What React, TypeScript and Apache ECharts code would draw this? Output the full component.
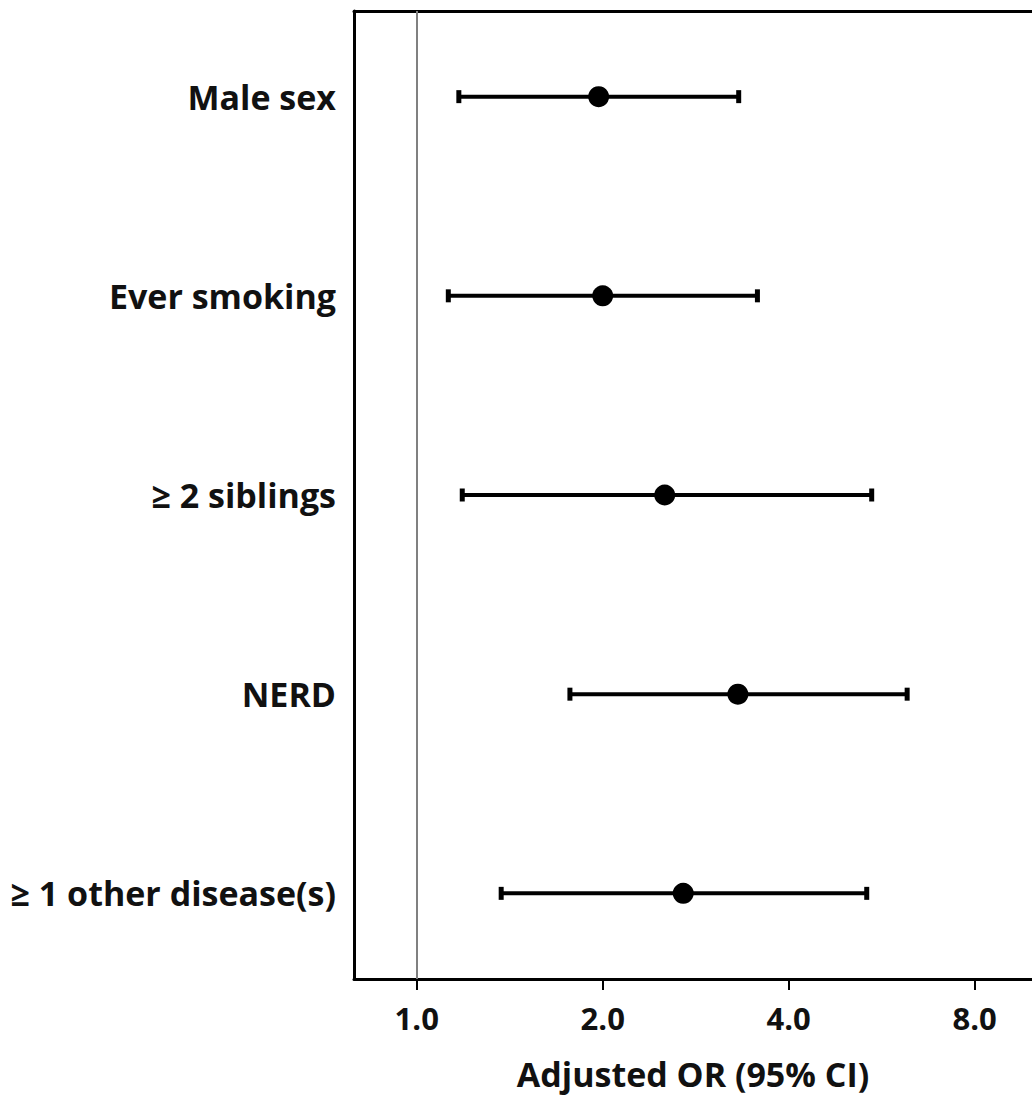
import React, { useEffect, useRef } from "react";
import * as echarts from "echarts";

const categories = ["Male sex", "Ever smoking", "\u2265 2 siblings", "NERD", "\u2265 1 other disease(s)"];
const oddsRatio = [1.97, 2.0, 2.52, 3.31, 2.7];
const ciLow = [1.17, 1.125, 1.185, 1.77, 1.37];
const ciHigh = [3.32, 3.56, 5.45, 6.22, 5.35];
const xTicks = [1, 2, 4, 8];
const xTitle = "Adjusted OR (95% CI)";

const FONT = "Open Sans";

export default function App() {
  const ref = useRef<HTMLDivElement>(null);
  useEffect(() => {
    document.body.style.margin = "0";
    const chart = echarts.init(ref.current!, null, { renderer: "svg" });
    const rowIdx = categories.map((_, i) => i);
    const option: any = {
      animation: false,
      backgroundColor: "#fff",
      textStyle: { fontFamily: FONT },
      grid: { left: 354, right: 0, top: 11, bottom: 118, containLabel: false },
      xAxis: [
        {
          type: "log",
          logBase: 2,
          min: 0.7916,
          max: 9.905,
          position: "bottom",
          axisLine: { show: true, onZero: false, lineStyle: { color: "#000", width: 3 } },
          axisTick: { show: true, customValues: xTicks, length: 11, lineStyle: { color: "#000", width: 2 } },
          axisLabel: {
            customValues: xTicks,
            formatter: (v: number) => Number(v).toFixed(1),
            fontFamily: FONT,
            fontWeight: "bold",
            fontSize: 31,
            color: "#111",
            margin: 23,
          },
          splitLine: { show: false },
          minorTick: { show: false },
          name: xTitle,
          nameLocation: "middle",
          nameGap: 78,
          nameTextStyle: { fontFamily: FONT, fontWeight: "bold", fontSize: 34, color: "#111" },
        },
        {
          type: "log",
          logBase: 2,
          min: 0.7916,
          max: 9.905,
          position: "top",
          axisLine: { show: true, onZero: false, lineStyle: { color: "#000", width: 3 } },
          axisTick: { show: false },
          axisLabel: { show: false },
          splitLine: { show: false },
        },
      ],
      yAxis: {
        type: "value",
        inverse: true,
        min: -0.43,
        max: 4.43,
        axisLine: { show: true, onZero: false, lineStyle: { color: "#000", width: 3 } },
        axisTick: { show: false },
        splitLine: { show: false },
        axisLabel: {
          customValues: rowIdx,
          formatter: (v: number) => categories[Math.round(v)] ?? "",
          fontFamily: FONT,
          fontWeight: "bold",
          fontSize: 34,
          color: "#111",
          margin: 18,
        },
      },
      series: [
        {
          type: "custom",
          xAxisIndex: 0,
          renderItem: (params: any, api: any) => {
            const y = api.value(2);
            const lo = api.coord([api.value(0), y]);
            const hi = api.coord([api.value(1), y]);
            return {
              type: "group",
              children: [
                {
                  type: "line",
                  shape: { x1: lo[0], y1: lo[1], x2: hi[0], y2: hi[1] },
                  style: { stroke: "#000", lineWidth: 4 },
                },
                {
                  type: "rect",
                  shape: { x: lo[0] - 2.5, y: lo[1] - 6.5, width: 5, height: 13 },
                  style: { fill: "#000" },
                },
                {
                  type: "rect",
                  shape: { x: hi[0] - 2.5, y: hi[1] - 6.5, width: 5, height: 13 },
                  style: { fill: "#000" },
                },
              ],
            };
          },
          encode: { x: [0, 1], y: 2 },
          data: categories.map((_, i) => [ciLow[i], ciHigh[i], i]),
          z: 3,
        },
        {
          type: "scatter",
          xAxisIndex: 0,
          symbol: "circle",
          symbolSize: 21,
          itemStyle: { color: "#000", opacity: 1 },
          data: categories.map((_, i) => [oddsRatio[i], i]),
          z: 4,
          markLine: {
            silent: true,
            symbol: ["none", "none"],
            label: { show: false },
            lineStyle: { color: "#808080", width: 2, type: "solid", opacity: 1 },
            data: [{ xAxis: 1 }],
            z: 1,
          },
        },
      ],
    };
    chart.setOption(option);
    return () => chart.dispose();
  }, []);
  return <div ref={ref} style={{ width: 1032, height: 1097 }} />;
}
